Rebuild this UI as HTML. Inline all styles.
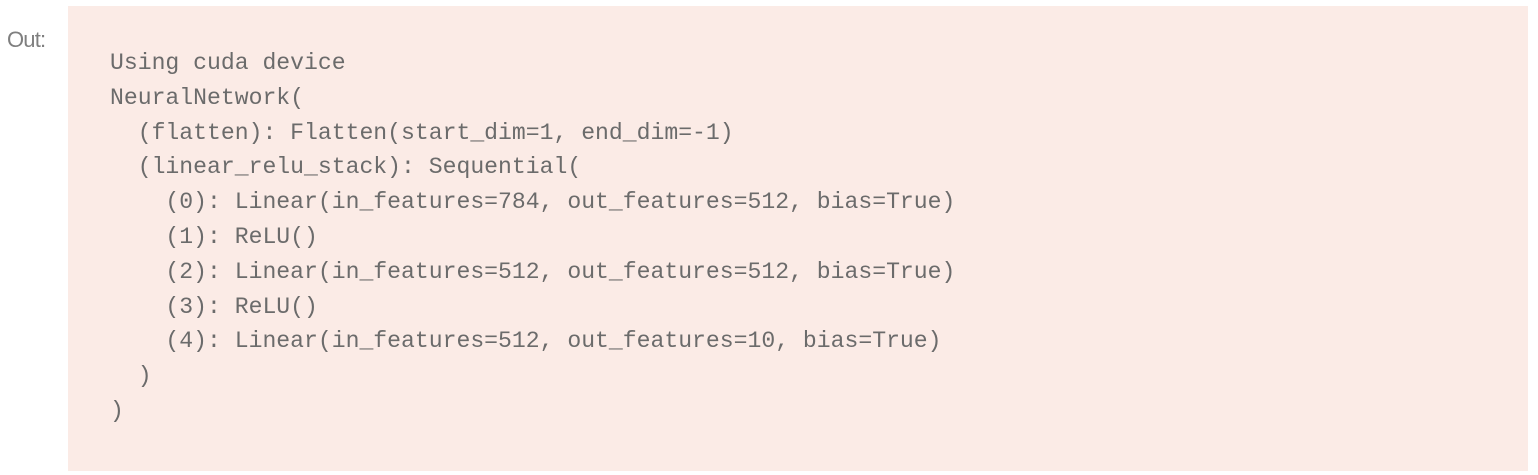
<!DOCTYPE html>
<html><head><meta charset="utf-8"><style>
html,body{margin:0;padding:0;background:#fff;width:1538px;height:475px;overflow:hidden}
.out{position:absolute;left:7px;top:27px;font:22px "Liberation Sans",sans-serif;color:#7f7f7f;letter-spacing:-0.8px}
.box{position:absolute;left:68px;top:6px;width:1460px;height:465px;background:#fbebe6}
pre{position:absolute;left:110px;top:46px;margin:0;font:23.1px/34.8px "Liberation Mono",monospace;color:#6b6b6b}
</style></head><body>
<div class="out">Out:</div>
<div class="box"></div>
<pre>Using cuda device
NeuralNetwork(
  (flatten): Flatten(start_dim=1, end_dim=-1)
  (linear_relu_stack): Sequential(
    (0): Linear(in_features=784, out_features=512, bias=True)
    (1): ReLU()
    (2): Linear(in_features=512, out_features=512, bias=True)
    (3): ReLU()
    (4): Linear(in_features=512, out_features=10, bias=True)
  )
)</pre>
</body></html>
